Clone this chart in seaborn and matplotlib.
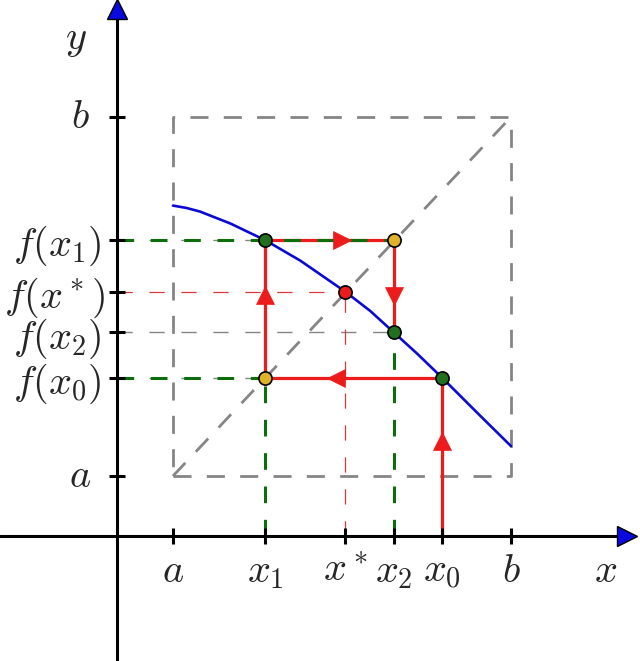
import matplotlib.pyplot as plt
import numpy as np
import pandas as pd
import seaborn as sns

# values (both axes in the same units, axes cross at 0)
interval = [0.5, 3.5]                 # a, b
iterates_x = [2.89, 1.32, 2.46]       # x0, x1, x2
iterates_fx = [1.32, 2.47, 1.70]      # f(x0), f(x1), f(x2)
fixed_point = [2.03, 2.04]            # x*, f(x*)
curve_x = [0.50, 0.62, 0.74, 1.01, 1.32, 1.63, 2.03, 2.25, 2.46, 2.67, 2.89, 3.22, 3.50]
curve_y = [2.76, 2.74, 2.71, 2.61, 2.47, 2.30, 2.04, 1.88, 1.70, 1.52, 1.32, 1.01, 0.75]
x_tick_labels = ["$a$", "$x_1$", "$x^*$", "$x_2$", "$x_0$", "$b$"]
y_tick_labels = ["$a$", "$f(x_0)$", "$f(x_2)$", "$f(x^*)$", "$f(x_1)$", "$b$"]

RED = "#ec1c1c"
THIN_RED = "#d83a3a"
BLUE = "#0a0ad2"
GRAY = "#858585"
GREEN = "#0b6e0b"
DOT_GREEN = "#21701e"
DOT_YELLOW = "#e0b22a"

sns.set_theme(style="white")
plt.rcParams["mathtext.fontset"] = "cm"
plt.rcParams["lines.scale_dashes"] = False

a, b = interval
x0, x1, x2 = iterates_x
f0, f1, f2 = iterates_fx
xs, fs = fixed_point

fig = plt.figure(figsize=(6.4, 6.61), dpi=100)
ax = fig.add_axes([0, 0, 1, 1])
ax.set_xlim(-1.035, 4.645)
ax.set_ylim(-1.046, 4.478)
ax.set_axis_off()

box_dash = (0, (13, 11))
thin_dash = (0, (11, 12))
green_dash = (0, (12, 12))

# dashed square [a, b]^2 and the diagonal y = x
ax.plot([a, b, b, a, a], [a, a, b, b, a], color=GRAY, lw=2.0, ls=box_dash, zorder=1)
ax.plot([a, b], [a, b], color=GRAY, lw=2.0, ls=box_dash, zorder=1)

# thin guides to the y axis
for xv, yv in [(x1, f0), (x2, f2), (x1, f1)]:
    ax.plot([0, xv], [yv, yv], color=GRAY, lw=1.0, ls=thin_dash, zorder=1)
ax.plot([0, xs], [fs, fs], color=THIN_RED, lw=0.9, ls=thin_dash, zorder=1)
ax.plot([xs, xs], [0, fs], color=THIN_RED, lw=0.9, ls=thin_dash, zorder=1)

# the curve y = f(x)
curve = pd.DataFrame({"x": curve_x, "y": curve_y})
sns.lineplot(data=curve, x="x", y="y", ax=ax, color=BLUE, lw=1.9,
             sort=False, estimator=None, zorder=2.5)

# cobweb path
path_x = [x0, x0, x1, x1, x2, x2]
path_y = [0, f0, f0, f1, f1, f2]
ax.plot(path_x, path_y, color=RED, lw=2.3, solid_joinstyle="miter", zorder=2)
for i in range(len(path_x) - 1):
    dx = path_x[i + 1] - path_x[i]
    dy = path_y[i + 1] - path_y[i]
    if dx == 0:
        mk = "^" if dy > 0 else "v"
    else:
        mk = ">" if dx > 0 else "<"
    ax.plot(path_x[i] + 0.6 * dx, path_y[i] + 0.6 * dy, marker=mk, ms=13.5,
            color=RED, mec=RED, mew=0.5, zorder=4)

# green guides
ax.plot([0, x1], [f0, f0], color=GREEN, lw=2.2, ls=green_dash, zorder=3)
ax.plot([0, x2], [f1, f1], color=GREEN, lw=2.2, ls=green_dash, zorder=3)
ax.plot([x1, x1], [0, f0], color=GREEN, lw=2.2, ls=green_dash, zorder=3)
ax.plot([x2, x2], [0, f2], color=GREEN, lw=2.2, ls=green_dash, zorder=3)

# points
dot = dict(marker="o", ms=9.5, mec="black", mew=1.2, ls="none", zorder=5)
ax.plot([x1, x2, x0], [f1, f2, f0], mfc=DOT_GREEN, **dot)
ax.plot([x1, x2], [f0, f1], mfc=DOT_YELLOW, **dot)
ax.plot([xs], [fs], mfc=RED, **dot)

# coordinate axes with blue arrow heads
x_lo, x_hi = ax.get_xlim()
y_lo, y_hi = ax.get_ylim()
ax.plot([x_lo, x_hi - 0.1], [0, 0], color="black", lw=2.2, zorder=6)
ax.plot([0, 0], [y_lo, y_hi - 0.1], color="black", lw=2.2, zorder=6)
ax.plot(x_hi - 0.115, 0, marker=">", ms=14, mfc="#0a0ae0", mec="black", mew=1, zorder=7)
ax.plot(0, y_hi - 0.075, marker="^", ms=14, mfc="#0a0ae0", mec="black", mew=1, zorder=7)

# ticks and labels
x_ticks = [a, x1, xs, x2, x0, b]
y_ticks = [a, f0, f2, fs, f1, b]
ax.plot(x_ticks, [0] * len(x_ticks), "|", color="black", ms=12, mew=2.2, zorder=6)
ax.plot([0] * len(y_ticks), y_ticks, "_", color="black", ms=12, mew=2.2, zorder=6)

fs_txt = 29
for xv, lab in zip(x_ticks, x_tick_labels):
    ax.annotate(lab, (xv, 0), xytext=(0, -33), textcoords="offset points",
                ha="center", va="baseline", fontsize=fs_txt)
for yv, lab in zip(y_ticks, y_tick_labels):
    if len(lab) > 3:
        dx_pt = -8 if "*" in lab else -11
        ax.annotate(lab, (0, yv), xytext=(dx_pt, 0), textcoords="offset points",
                    ha="right", va="center_baseline", fontsize=fs_txt)
    else:
        ax.annotate(lab, (0, yv), xytext=(-26, 0), textcoords="offset points",
                    ha="center", va="center", fontsize=fs_txt)
ax.annotate("$x$", (x_hi, 0), xytext=(-25, -33), textcoords="offset points",
            ha="center", va="baseline", fontsize=fs_txt)
ax.annotate("$y$", (0, y_hi), xytext=(-29, -28), textcoords="offset points",
            ha="center", va="center", fontsize=fs_txt)

fig.savefig("out.png", dpi=100)
